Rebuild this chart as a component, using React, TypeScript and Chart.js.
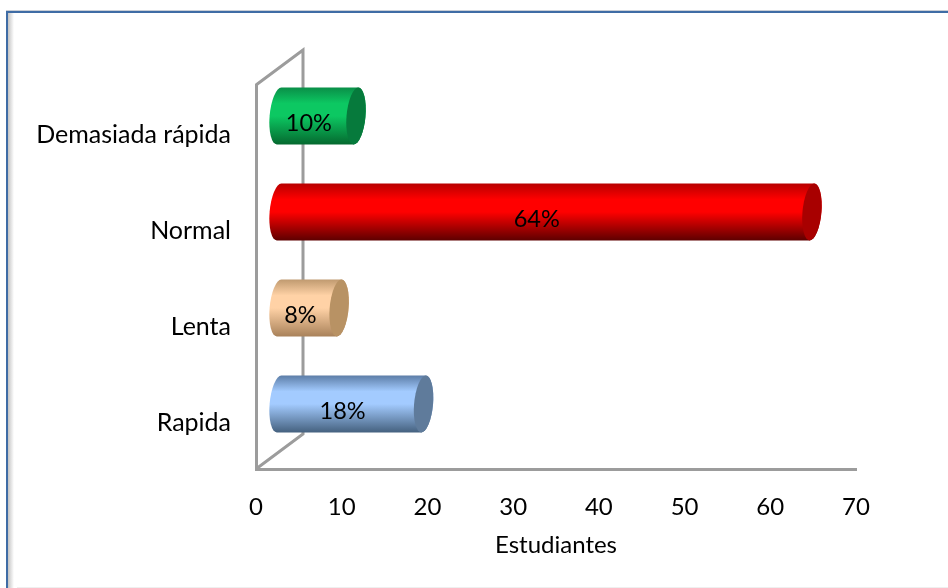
import React, { useEffect, useRef } from "react";
import { Chart, registerables } from "chart.js";

Chart.register(...registerables);

const categories = ["Demasiada rápida", "Normal", "Lenta", "Rapida"];
const percentages = [10, 64, 8, 18];
const xTicks = [0, 10, 20, 30, 40, 50, 60, 70];
const axisTitle = "Estudiantes";

// [edge shade, highlight, lower shade, end cap]
const barShades = [
  ["#0a8f48", "#0cc862", "#05692f", "#067a3c"],
  ["#b80000", "#ff0000", "#5e0000", "#a80000"],
  ["#c09a70", "#ffd2a6", "#a9825a", "#b89264"],
  ["#5d7ea8", "#a3cbff", "#45617f", "#5f7b9b"],
];

const FONT = "Lato, Carlito, Calibri, sans-serif";
const AXIS_GREY = "#9c9c9c";
const AXIS_WIDTH = 3;
const WALL_DX = 47;
const WALL_DY = 35;
const CYLINDER_SKEW = 0.08;

// Maps an axis pixel onto the mid-depth plane where the cylinders sit.
const depthX = (px: number, origin: number) => origin + 15.6 + (px - origin) * 0.985;

const framePlugin = {
  id: "frame",
  beforeDraw(chart: any) {
    const { ctx, width, height } = chart;
    ctx.save();
    const shadow = ctx.createLinearGradient(8, 0, 14, 0);
    shadow.addColorStop(0, "#c4c4c4");
    shadow.addColorStop(1, "#ffffff");
    ctx.fillStyle = shadow;
    ctx.fillRect(8, 13, 6, height - 13);
    ctx.fillStyle = "#c9ced6";
    ctx.fillRect(6, 10, width - 6, 1);
    ctx.fillStyle = "#3f6ca5";
    ctx.fillRect(6, 11, width - 6, 2);
    ctx.fillRect(6, 11, 2, height - 11);
    ctx.fillStyle = "#efefef";
    ctx.fillRect(17, height - 1, width - 17, 1);
    ctx.restore();
  },
};

const wallPlugin = {
  id: "wall",
  beforeDatasetsDraw(chart: any) {
    const { ctx, chartArea } = chart;
    const { left, top, bottom } = chartArea;
    ctx.save();
    ctx.strokeStyle = AXIS_GREY;
    ctx.lineWidth = AXIS_WIDTH;
    ctx.beginPath();
    ctx.moveTo(left, top);
    ctx.lineTo(left + WALL_DX, top - WALL_DY);
    ctx.lineTo(left + WALL_DX, bottom - WALL_DY);
    ctx.lineTo(left, bottom);
    ctx.stroke();
    ctx.restore();
  },
};

const cylinderPlugin = {
  id: "cylinders",
  beforeDatasetDraw(chart: any, args: any) {
    const { ctx, scales } = chart;
    const meta = args.meta;
    const origin = scales.x.getPixelForValue(0);
    const zeroX = depthX(origin, origin);
    const rx = 9.5;
    meta.data.forEach((bar: any, i: number) => {
      const value = percentages[i];
      const shades = barShades[i];
      const xEnd = depthX(bar.x, origin);
      const xStart = zeroX + 7.5;
      const yMid = bar.y - 17;
      const ry = bar.height / 2;
      const top = -ry;
      const bottom = ry;

      ctx.save();
      // Slight shear so the ends lean as they do on a cylinder seen in perspective.
      ctx.transform(1, 0, -CYLINDER_SKEW, 1, 0, yMid);

      const body = ctx.createLinearGradient(0, top, 0, bottom);
      body.addColorStop(0, shades[0]);
      body.addColorStop(0.28, shades[1]);
      body.addColorStop(0.5, shades[1]);
      body.addColorStop(1, shades[2]);

      ctx.fillStyle = body;
      ctx.beginPath();
      ctx.moveTo(xEnd, top);
      ctx.lineTo(xStart, top);
      ctx.ellipse(xStart, 0, rx, ry, 0, -Math.PI / 2, Math.PI / 2, true);
      ctx.lineTo(xEnd, bottom);
      ctx.ellipse(xEnd, 0, rx, ry, 0, Math.PI / 2, -Math.PI / 2, true);
      ctx.closePath();
      ctx.fill();

      ctx.fillStyle = shades[3];
      ctx.beginPath();
      ctx.ellipse(xEnd, 0, rx, ry, 0, 0, Math.PI * 2);
      ctx.fill();
      ctx.restore();

      ctx.save();
      ctx.fillStyle = "#000000";
      ctx.font = `23.5px ${FONT}`;
      ctx.textAlign = "center";
      ctx.textBaseline = "middle";
      ctx.fillText(`${value}%`, (zeroX + xEnd) / 2 - 5, yMid + 7);
      ctx.restore();
    });
    return false;
  },
};

export default function App() {
  const canvasRef = useRef<HTMLCanvasElement>(null);

  useEffect(() => {
    const chart = new Chart(canvasRef.current as HTMLCanvasElement, {
      type: "bar",
      data: {
        labels: categories,
        datasets: [
          {
            label: axisTitle,
            data: percentages,
            backgroundColor: barShades.map((s) => s[1]),
            barPercentage: 0.592,
            categoryPercentage: 1,
          },
        ],
      },
      options: {
        indexAxis: "y",
        animation: false,
        responsive: false,
        layout: { padding: { top: 85, right: 92, left: 0, bottom: 0 } },
        plugins: { legend: { display: false }, tooltip: { enabled: false } },
        scales: {
          x: {
            type: "linear",
            min: 0,
            max: 70,
            afterFit: (scale: any) => {
              scale.height = 119;
            },
            afterBuildTicks: (scale: any) => {
              scale.ticks = xTicks.map((value) => ({ value }));
            },
            grid: { display: false, drawTicks: false },
            border: { display: true, color: AXIS_GREY, width: AXIS_WIDTH },
            ticks: {
              color: "#000000",
              font: { family: FONT, size: 24 },
              padding: 24,
              maxRotation: 0,
            },
            title: {
              display: true,
              text: axisTitle,
              color: "#000000",
              font: { family: FONT, size: 24 },
              padding: { top: 10, bottom: 28 },
            },
          },
          y: {
            type: "category",
            afterFit: (scale: any) => {
              scale.width = 256;
            },
            grid: { display: false, drawTicks: false },
            border: { display: true, color: AXIS_GREY, width: AXIS_WIDTH },
            ticks: {
              color: "#000000",
              font: { family: FONT, size: 25 },
              padding: 25,
              labelOffset: 2,
            },
          },
        },
      },
      plugins: [framePlugin, wallPlugin, cylinderPlugin],
    } as any);
    return () => chart.destroy();
  }, []);

  return (
    <div style={{ position: "absolute", left: 0, top: 0, width: 948, height: 588, background: "#ffffff" }}>
      <canvas ref={canvasRef} width={948} height={588} style={{ display: "block" }} />
    </div>
  );
}
